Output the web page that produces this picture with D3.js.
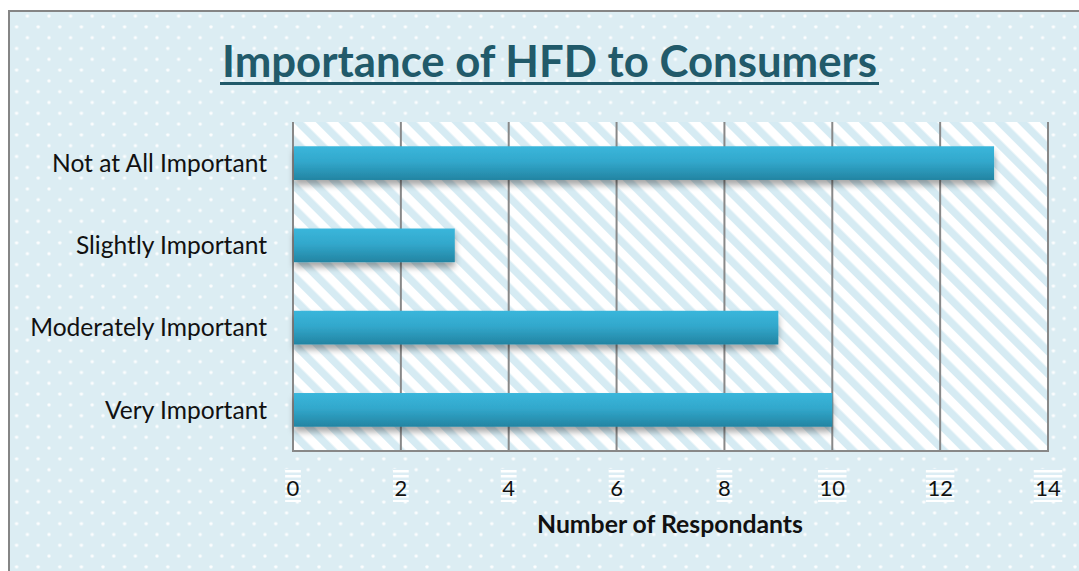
<!DOCTYPE html>
<html>
<head>
<meta charset="utf-8">
<script src="https://cdn.jsdelivr.net/npm/d3@7"></script>
<style>
  html, body { margin: 0; padding: 0; background: #ffffff; overflow: hidden; }
  svg { display: block; }
  text { font-family: Lato, "Open Sans", "Liberation Sans", sans-serif; }
</style>
</head>
<body>
<svg id="chart" width="1079" height="571"></svg>
<script>
// ---- data ----
const categories = ["Not at All Important", "Slightly Important", "Moderately Important", "Very Important"];
const respondents = [13, 3, 9, 10];
const xTicks = [0, 2, 4, 6, 8, 10, 12, 14];
const chartTitle = "Importance of HFD to Consumers";
const xAxisTitle = "Number of Respondants";

const W = 1079, H = 571;
const svg = d3.select("#chart");
const defs = svg.append("defs");

// dotted background pattern
const dots = defs.append("pattern").attr("id", "dots")
  .attr("patternUnits", "userSpaceOnUse").attr("width", 21.6).attr("height", 21.6)
  .attr("x", 5.8).attr("y", -5.5);
dots.append("rect").attr("width", 21.6).attr("height", 21.6).attr("fill", "#dcedf3");
[[20.1, 20.1], [-1.5, -1.5], [9.3, 9.3], [20.1, -1.5], [-1.5, 20.1]].forEach(p => {
  dots.append("rect").attr("x", p[0]).attr("y", p[1]).attr("width", 3).attr("height", 3)
    .attr("rx", 0.8).attr("fill", "#ffffff").attr("opacity", 0.9);
});

// diagonal stripes for plot area
const sp = 16;
const stripes = defs.append("pattern").attr("id", "stripes")
  .attr("patternUnits", "userSpaceOnUse").attr("width", sp).attr("height", sp)
  .attr("patternTransform", "translate(293,122) rotate(-45)");
stripes.append("rect").attr("width", sp).attr("height", sp).attr("fill", "#ffffff");
stripes.append("rect").attr("width", 7.5).attr("height", sp).attr("fill", "#d6ebf3");

// horizontal stripes for tick label boxes
const hstr = defs.append("pattern").attr("id", "hstripes")
  .attr("patternUnits", "userSpaceOnUse").attr("width", 4).attr("height", 5);
hstr.append("rect").attr("width", 4).attr("height", 5).attr("fill", "#ffffff");
hstr.append("rect").attr("y", 2.5).attr("width", 4).attr("height", 2.5).attr("fill", "#dcedf4");

// bar gradient
const grad = defs.append("linearGradient").attr("id", "barGrad")
  .attr("x1", 0).attr("y1", 0).attr("x2", 0).attr("y2", 1);
grad.append("stop").attr("offset", "0%").attr("stop-color", "#3ab6db");
grad.append("stop").attr("offset", "45%").attr("stop-color", "#32a8cc");
grad.append("stop").attr("offset", "100%").attr("stop-color", "#2384a2");

// shadow
const f = defs.append("filter").attr("id", "shadow")
  .attr("x", "-5%").attr("y", "-30%").attr("width", "115%").attr("height", "180%");
f.append("feDropShadow").attr("dx", 0).attr("dy", 5).attr("stdDeviation", 3)
  .attr("flood-color", "#000").attr("flood-opacity", 0.35);

// background & border
svg.append("rect").attr("x", 0).attr("y", 0).attr("width", W).attr("height", H).attr("fill", "#ffffff");
svg.append("rect").attr("x", 9).attr("y", 11).attr("width", W + 20).attr("height", H + 20)
  .attr("fill", "url(#dots)").attr("stroke", "#858585").attr("stroke-width", 2);

// helper: fit font size to target width
function fit(sel, target) {
  const fs = parseFloat(sel.attr("font-size"));
  const w = sel.node().getComputedTextLength();
  sel.attr("font-size", (fs * target / w).toFixed(2));
}

// title
const title = svg.append("text").attr("x", 549.5).attr("y", 77)
  .attr("text-anchor", "middle").attr("font-size", 40).attr("font-weight", "bold")
  .attr("fill", "#215a6a").text(chartTitle);
fit(title, 655);
svg.append("rect").attr("x", 220).attr("y", 82).attr("width", 659).attr("height", 3).attr("fill", "#215a6a");

// scales
const plot = { left: 293, right: 1048, top: 122, bottom: 451 };
const x = d3.scaleLinear().domain([0, 14]).range([plot.left, plot.right]);
const y = d3.scaleBand().domain(categories).range([plot.top, plot.bottom])
  .paddingInner(0.59).paddingOuter(0.295);

// plot area
svg.append("rect").attr("x", plot.left).attr("y", plot.top)
  .attr("width", plot.right - plot.left).attr("height", plot.bottom - plot.top)
  .attr("fill", "url(#stripes)");

// gridlines
svg.append("g").selectAll("line").data(xTicks).join("line")
  .attr("x1", d => x(d)).attr("x2", d => x(d))
  .attr("y1", plot.top).attr("y2", plot.bottom)
  .attr("stroke", "#888888").attr("stroke-width", 2);
svg.append("line").attr("x1", plot.left - 1).attr("x2", plot.right + 1)
  .attr("y1", plot.bottom).attr("y2", plot.bottom)
  .attr("stroke", "#888888").attr("stroke-width", 2);

// bars
svg.append("g").selectAll("rect").data(categories).join("rect")
  .attr("x", x(0) + 1).attr("y", d => y(d))
  .attr("width", (d, i) => x(respondents[i]) - x(0) - 1)
  .attr("height", y.bandwidth())
  .attr("fill", "url(#barGrad)").attr("filter", "url(#shadow)");

// category labels
const catG = svg.append("g");
const catLabels = catG.selectAll("text").data(categories).join("text")
  .attr("x", 267).attr("y", d => y(d) + y.bandwidth() / 2)
  .attr("dy", "0.36em").attr("text-anchor", "end")
  .attr("font-size", 22).attr("fill", "#111111").text(d => d);
{
  const n = catLabels.filter(d => d === "Not at All Important");
  const fs = 22 * 215 / n.node().getComputedTextLength();
  catLabels.attr("font-size", fs.toFixed(2));
}

// x tick labels with boxes
const tickG = svg.append("g");
xTicks.forEach(t => {
  const g = tickG.append("g");
  const r = g.append("rect");
  const tx = g.append("text").attr("x", x(t)).attr("y", 496)
    .attr("text-anchor", "middle").attr("font-size", 22).attr("fill", "#111111").text(t);
  const w = tx.node().getComputedTextLength();
  r.attr("x", x(t) - w / 2 - 1.5).attr("y", 469).attr("width", w + 3).attr("height", 33)
    .attr("fill", "url(#hstripes)");
});

// axis title
const at = svg.append("text").attr("x", 670).attr("y", 533)
  .attr("text-anchor", "middle").attr("font-size", 22).attr("font-weight", "bold")
  .attr("fill", "#111111").text(xAxisTitle);
fit(at, 266);
</script>
</body>
</html>
